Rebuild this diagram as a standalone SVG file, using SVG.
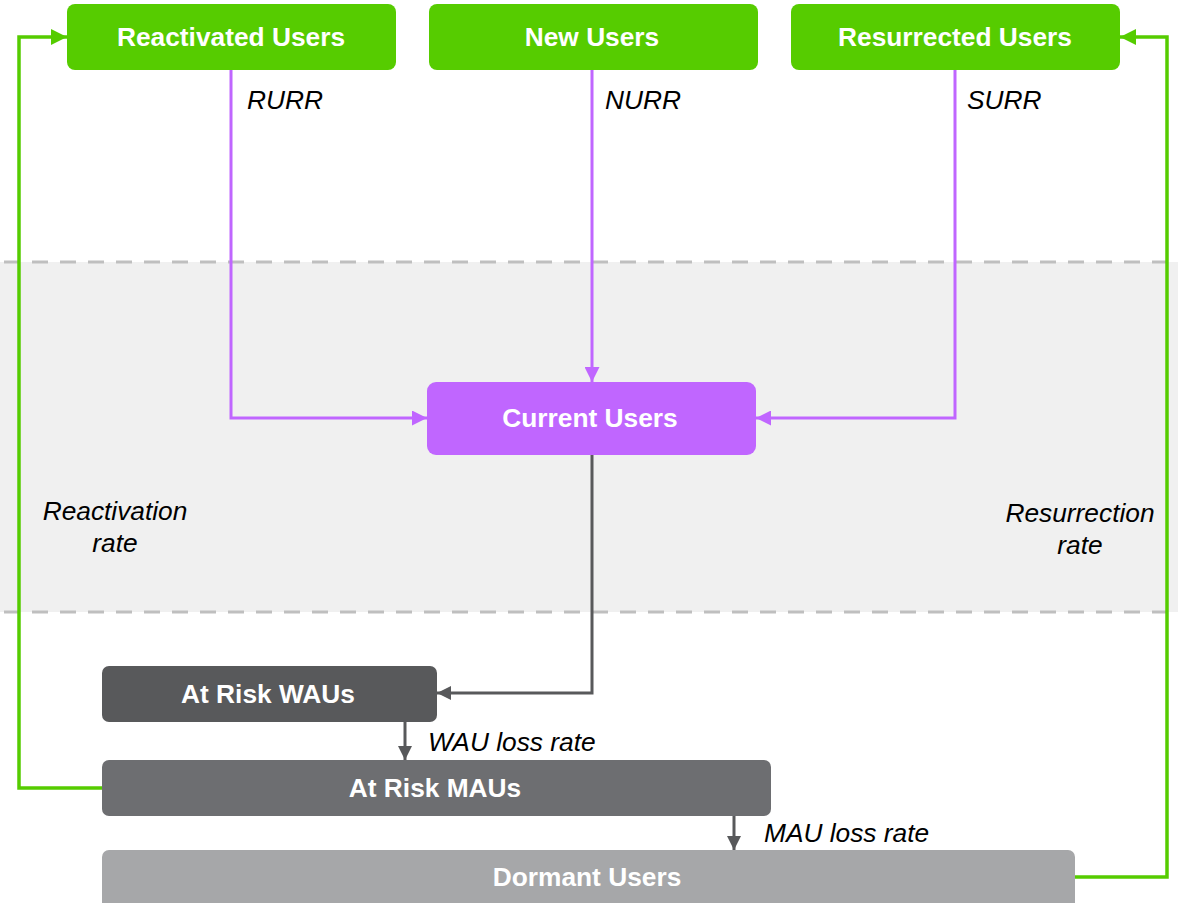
<svg xmlns="http://www.w3.org/2000/svg" width="1178" height="903" viewBox="0 0 1178 903">
<defs>
<style>
.nt{font-family:"Liberation Sans",Arial,sans-serif;font-weight:bold;font-size:26.3px;fill:#ffffff;text-anchor:middle}
.lb{font-family:"Liberation Sans",Arial,sans-serif;font-style:italic;font-size:26.3px;fill:#000000}
.pl{fill:none;stroke:#c066ff;stroke-width:3}
.gr{fill:none;stroke:#55cc00;stroke-width:3.5}
.dk{fill:none;stroke:#58595b;stroke-width:3}
.dash{stroke:#bfbfbf;stroke-width:3;stroke-dasharray:16 12}
</style>
<marker id="ag" markerWidth="16" markerHeight="16" refX="16" refY="8" orient="auto" markerUnits="userSpaceOnUse" viewBox="0 0 16 16"><path d="M0,0 L16,8 L0,16 z" fill="#55cc00"/></marker>
<marker id="ad" markerWidth="14" markerHeight="14" refX="14" refY="7" orient="auto" markerUnits="userSpaceOnUse" viewBox="0 0 14 14"><path d="M0,0 L14,7 L0,14 z" fill="#58595b"/></marker>
<marker id="app" markerWidth="15" markerHeight="15" refX="15" refY="7.5" orient="auto" markerUnits="userSpaceOnUse" viewBox="0 0 15 15"><path d="M0,0 L15,7.5 L0,15 z" fill="#c066ff"/></marker>
</defs>
<rect width="1178" height="903" fill="#ffffff"/>
<rect x="0" y="262" width="1178" height="350" fill="#f0f0f0"/>
<line class="dash" x1="4" y1="262" x2="1178" y2="262"/>
<line class="dash" x1="4" y1="612" x2="1178" y2="612"/>
<g id="connectors">
<path class="pl" d="M231,70 V418 H427" marker-end="url(#app)"/>
<path class="pl" d="M592,70 V382" marker-end="url(#app)"/>
<path class="pl" d="M955,70 V418 H756" marker-end="url(#app)"/>
<path class="dk" d="M592,455 V693 H437" marker-end="url(#ad)"/>
<path class="dk" d="M405,722 V760" marker-end="url(#ad)"/>
<path class="dk" d="M734,816 V850" marker-end="url(#ad)"/>
<path class="gr" d="M102,788 H19 V37 H67" marker-end="url(#ag)"/>
<path class="gr" d="M1075,877 H1167 V37 H1120" marker-end="url(#ag)"/>
<text class="lb" x="247" y="109">RURR</text>
<text class="lb" x="605" y="109">NURR</text>
<text class="lb" x="967" y="109">SURR</text>
<text class="lb" x="115" y="520" text-anchor="middle">Reactivation</text>
<text class="lb" x="115" y="552" text-anchor="middle">rate</text>
<text class="lb" x="1080" y="522" text-anchor="middle">Resurrection</text>
<text class="lb" x="1080" y="554" text-anchor="middle">rate</text>
<text class="lb" x="428" y="751">WAU loss rate</text>
<text class="lb" x="764" y="842">MAU loss rate</text>
</g>
<g id="reactivated"><rect x="67" y="4" width="329" height="66" rx="8" fill="#56cc00"/><text class="nt" x="231" y="46">Reactivated Users</text></g>
<g id="new"><rect x="429" y="4" width="329" height="66" rx="8" fill="#56cc00"/><text class="nt" x="592" y="46">New Users</text></g>
<g id="resurrected"><rect x="791" y="4" width="329" height="66" rx="8" fill="#56cc00"/><text class="nt" x="955" y="46">Resurrected Users</text></g>
<g id="current"><rect x="427" y="382" width="329" height="73" rx="9" fill="#c066ff"/><text class="nt" x="590" y="427">Current Users</text></g>
<g id="wau"><rect x="102" y="666" width="335" height="56" rx="7" fill="#58595b"/><text class="nt" x="268" y="703">At Risk WAUs</text></g>
<g id="mau"><rect x="102" y="760" width="669" height="56" rx="7" fill="#6d6e71"/><text class="nt" x="435" y="797">At Risk MAUs</text></g>
<g id="dormant"><rect x="102" y="850" width="973" height="60" rx="7" fill="#a6a7a9"/><text class="nt" x="587" y="886">Dormant Users</text></g>
</svg>
